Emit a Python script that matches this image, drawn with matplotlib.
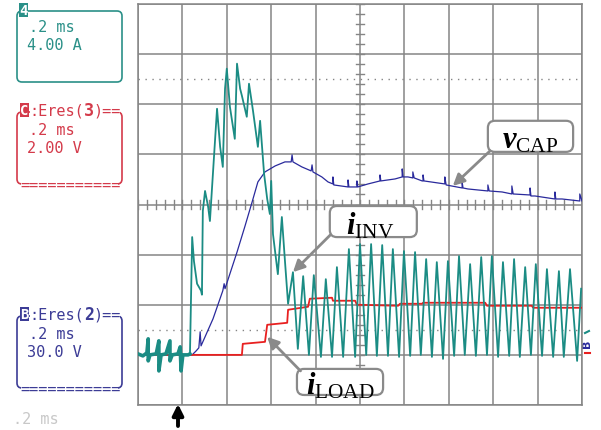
import numpy as np
import matplotlib.pyplot as plt
from matplotlib.patches import FancyBboxPatch, Rectangle

plt.rcParams['mathtext.fontset'] = 'custom'
plt.rcParams['mathtext.rm'] = 'Liberation Serif'
plt.rcParams['mathtext.it'] = 'Liberation Serif:italic:bold'

# scope traces in divisions (x: 0..10, y: 0..8)
inv_pre_t = [0.00, 0.11, 0.20, 0.23, 0.23, 0.27, 0.41, 0.47, 0.47, 0.52,
             0.63, 0.72, 0.72, 0.77, 0.90, 0.95, 0.97, 1.01, 1.13, 1.17]
inv_pre_v = [1.02, 0.98, 1.04, 1.32, 0.88, 1.00, 1.02, 1.28, 0.68, 1.00,
             1.02, 1.28, 0.88, 1.00, 1.02, 1.16, 0.68, 1.00, 1.00, 1.02]

inv_t = [1.17, 1.22, 1.26, 1.33, 1.42, 1.44, 1.46, 1.51, 1.58, 1.62,
         1.69, 1.73, 1.78, 1.85, 1.91, 1.96, 2.00, 2.07, 2.18, 2.23,
         2.30, 2.34, 2.45, 2.50, 2.59, 2.70, 2.75, 2.84, 2.91, 2.97,
         3.00, 3.04, 3.15, 3.24, 3.31, 3.38, 3.49, 3.60, 3.72, 3.85,
         3.96, 4.12, 4.23, 4.37, 4.48, 4.62, 4.75, 4.89, 5.00, 5.14,
         5.25, 5.38, 5.50, 5.63, 5.74, 5.88, 5.99, 6.13, 6.24, 6.37,
         6.49, 6.62, 6.73, 6.87, 6.98, 7.12, 7.23, 7.36, 7.48, 7.61,
         7.73, 7.86, 7.97, 8.11, 8.22, 8.36, 8.47, 8.60, 8.72, 8.85,
         8.96, 9.10, 9.21, 9.35, 9.48, 9.59, 9.73, 9.89, 9.98]
inv_v = [1.00, 3.35, 2.87, 2.42, 2.28, 2.20, 3.87, 4.27, 3.95, 3.67,
         4.65, 5.21, 5.91, 5.15, 4.75, 6.31, 6.71, 5.95, 5.31, 6.81,
         6.31, 6.17, 5.75, 6.41, 5.87, 5.15, 5.67, 4.61, 4.11, 3.81,
         4.47, 3.41, 2.61, 3.75, 2.87, 2.02, 2.65, 1.12, 2.57, 1.00,
         2.59, 0.96, 2.51, 0.96, 2.75, 0.96, 3.11, 0.96, 3.21, 1.00,
         3.21, 0.98, 3.19, 0.98, 3.11, 0.96, 3.07, 0.98, 3.05, 1.00,
         2.91, 0.96, 2.85, 0.92, 2.87, 0.98, 2.97, 1.00, 2.81, 0.98,
         2.95, 1.00, 2.97, 0.96, 2.85, 0.98, 2.91, 0.96, 2.75, 1.00,
         2.81, 0.98, 2.71, 0.96, 2.67, 0.96, 2.71, 0.88, 2.32]

cap_t = [0.00, 1.22, 1.31, 1.37, 1.40, 1.42, 1.51, 1.69, 1.91, 1.94,
         1.96, 2.23, 2.41, 2.57, 2.70, 2.86, 3.09, 3.31, 3.45, 3.47,
         3.49, 3.69, 3.90, 3.92, 3.94, 4.14, 4.28, 4.39, 4.39, 4.41,
         4.73, 4.73, 4.75, 4.93, 4.93, 4.95, 5.18, 5.45, 5.45, 5.47,
         5.79, 5.95, 5.95, 5.97, 6.08, 6.19, 6.19, 6.22, 6.40, 6.42,
         6.42, 6.44, 6.91, 6.91, 6.94, 7.30, 7.30, 7.32, 7.43, 7.88,
         7.88, 7.91, 8.20, 8.42, 8.42, 8.45, 8.83, 8.83, 8.85, 8.94,
         9.39, 9.39, 9.41, 9.55, 9.95, 9.95, 10.0]
cap_v = [1.00, 1.00, 1.08, 1.14, 1.46, 1.18, 1.36, 1.72, 2.28, 2.42,
         2.32, 3.05, 3.57, 4.05, 4.45, 4.65, 4.77, 4.85, 4.85, 4.99,
         4.85, 4.75, 4.67, 4.79, 4.65, 4.55, 4.45, 4.41, 4.55, 4.39,
         4.35, 4.49, 4.35, 4.35, 4.47, 4.35, 4.41, 4.47, 4.59, 4.47,
         4.51, 4.55, 4.71, 4.55, 4.55, 4.53, 4.65, 4.53, 4.47, 4.47,
         4.59, 4.47, 4.41, 4.55, 4.39, 4.33, 4.45, 4.33, 4.31, 4.27,
         4.39, 4.27, 4.25, 4.21, 4.37, 4.21, 4.19, 4.33, 4.17, 4.17,
         4.11, 4.25, 4.11, 4.11, 4.07, 4.21, 4.07]

load_t = [0.00, 2.34, 2.36, 2.86, 2.91, 3.36, 3.38, 3.83, 3.87, 4.37,
          4.39, 4.89, 4.93, 5.86, 5.90, 6.40, 6.42, 7.82, 7.86, 8.87,
          8.90, 10.0]
load_v = [1.00, 1.00, 1.22, 1.26, 1.60, 1.64, 1.90, 1.96, 2.12, 2.14,
          2.08, 2.08, 2.00, 1.98, 2.02, 2.02, 2.04, 2.04, 1.98, 1.98,
          1.94, 1.94]

teal = '#1b8c84'
teal_txt = '#2a9088'
blue = '#2a2a9c'
blue_txt = '#3c3c96'
red = '#e82020'
red_txt = '#d43a4a'
gridc = '#858585'
labgray = '#8a8a8a'
mono = 'DejaVu Sans Mono'

fig = plt.figure(figsize=(6.01, 4.31), dpi=100)

# overlay in pixel units for the side panels
deco = fig.add_axes([0, 0, 1, 1])
deco.set_xlim(0, 601)
deco.set_ylim(431, 0)
deco.axis('off')

# channel 4 panel
deco.add_patch(FancyBboxPatch((17, 12), 105, 71, boxstyle='round,pad=0,rounding_size=5',
                              ec=teal_txt, fc='none', lw=1.2))
deco.add_patch(Rectangle((19, 4), 9, 14, fc=teal_txt, ec='none'))
deco.text(23.5, 11, '4', color='white', fontsize=10, fontweight='bold',
          ha='center', va='center', family=mono)
deco.text(29, 28, '.2 ms', color=teal_txt, fontsize=11, family=mono, va='center')
deco.text(27, 46, '4.00 A', color=teal_txt, fontsize=11, family=mono, va='center')


def eres_panel(y0, letter, num, l2, col):
    deco.add_patch(FancyBboxPatch((17, y0 + 2), 105, 72, boxstyle='round,pad=0,rounding_size=5',
                                  ec=col, fc='none', lw=1.2))
    deco.add_patch(Rectangle((20, y0 - 7), 9, 14, fc=col, ec='none'))
    deco.text(24.5, y0, letter, color='white', fontsize=10, fontweight='bold',
              ha='center', va='center', family=mono)
    deco.add_patch(Rectangle((30, y0 - 6), 90, 12, fc='white', ec='none'))
    deco.text(29, y0, ':Eres(', color=col, fontsize=11, family=mono, va='center')
    deco.text(84, y0, num, color=col, fontsize=12, fontweight='bold', family=mono, va='center')
    deco.text(93, y0, ')==', color=col, fontsize=11, family=mono, va='center')
    deco.text(29, y0 + 20, '.2 ms', color=col, fontsize=11, family=mono, va='center')
    deco.text(27, y0 + 38, l2, color=col, fontsize=11, family=mono, va='center')
    deco.add_patch(Rectangle((21, y0 + 70), 97, 8, fc='white', ec='none'))
    deco.text(20, y0 + 74, '===========', color=col, fontsize=11, family=mono, va='center')


eres_panel(111, 'C', '3', '2.00 V', red_txt)
eres_panel(315, 'B', '2', '30.0 V', blue_txt)
deco.text(13, 420, '.2 ms', color='#c8c8c8', fontsize=11, family=mono, va='center')

# trigger arrow
deco.annotate('', xy=(178, 405), xytext=(178, 427),
              arrowprops=dict(arrowstyle='-|>', color='black', lw=2.8, mutation_scale=16,
                              shrinkA=0, shrinkB=0))

# ground markers on the right
deco.text(587, 344, 'B', color=blue, fontsize=8, fontweight='bold', ha='center', va='center',
          rotation=90)
deco.plot([585, 590], [354, 354], color=red, lw=1.5)
deco.plot([585, 589], [334, 332], color=teal, lw=1.5)

# scope screen
ax = fig.add_axes([138 / 601, 25 / 431, 444 / 601, 401 / 431])
ax.set_xlim(0, 10)
ax.set_ylim(0, 8)
ax.set_xticks(range(11))
ax.set_yticks(range(9))
ax.tick_params(length=0, labelbottom=False, labelleft=False)
ax.grid(True, color=gridc, lw=1.1)
for s in ax.spines.values():
    s.set_color(gridc)
    s.set_linewidth(1.1)

for xm in np.arange(0, 10.01, 0.2):
    ax.plot([xm, xm], [3.92, 4.08], color=gridc, lw=1)
for ym in np.arange(0, 8.01, 0.2):
    ax.plot([4.91, 5.09], [ym, ym], color=gridc, lw=1)
ax.axhline(6.5, color=gridc, lw=1, ls=(0, (1, 4)))
ax.axhline(1.5, color=gridc, lw=1, ls=(0, (1, 4)))

ax.plot(cap_t, cap_v, color=blue, lw=0.9, zorder=3)
ax.plot(load_t, load_v, color=red, lw=1.3, zorder=4)
ax.plot(inv_pre_t, inv_pre_v, color=teal, lw=2.6, zorder=5)
ax.plot(inv_t, inv_v, color=teal, lw=1.3, zorder=5)

# labels: box, text and arrow
labels = [
    (r'$v_{\mathrm{CAP}}$', (7.88, 5.05, 1.92, 0.62), (8.82, 5.29), (7.93, 5.07), (7.09, 4.37)),
    (r'$i_{\mathrm{INV}}$', (4.32, 3.35, 1.96, 0.62), (5.22, 3.59), (4.34, 3.40), (3.49, 2.65)),
    (r'$i_{\mathrm{LOAD}}$', (3.58, 0.20, 1.94, 0.52), (4.57, 0.40), (3.66, 0.68), (2.91, 1.36)),
]
for txt, (bx, by, bw, bh), tpos, tail, head in labels:
    ax.add_patch(FancyBboxPatch((bx, by), bw, bh, boxstyle='round,pad=0,rounding_size=0.16',
                                mutation_aspect=44.4 / 50.1, fc='white', ec=labgray, lw=1.6,
                                zorder=8))
    ax.text(tpos[0], tpos[1], txt, fontsize=22, ha='center', va='center', zorder=9)
    ax.annotate('', xy=head, xytext=tail,
                arrowprops=dict(arrowstyle='-|>', color=labgray, lw=2, mutation_scale=17,
                                shrinkA=0, shrinkB=0), zorder=9)

fig.savefig('out.png', dpi=100)
